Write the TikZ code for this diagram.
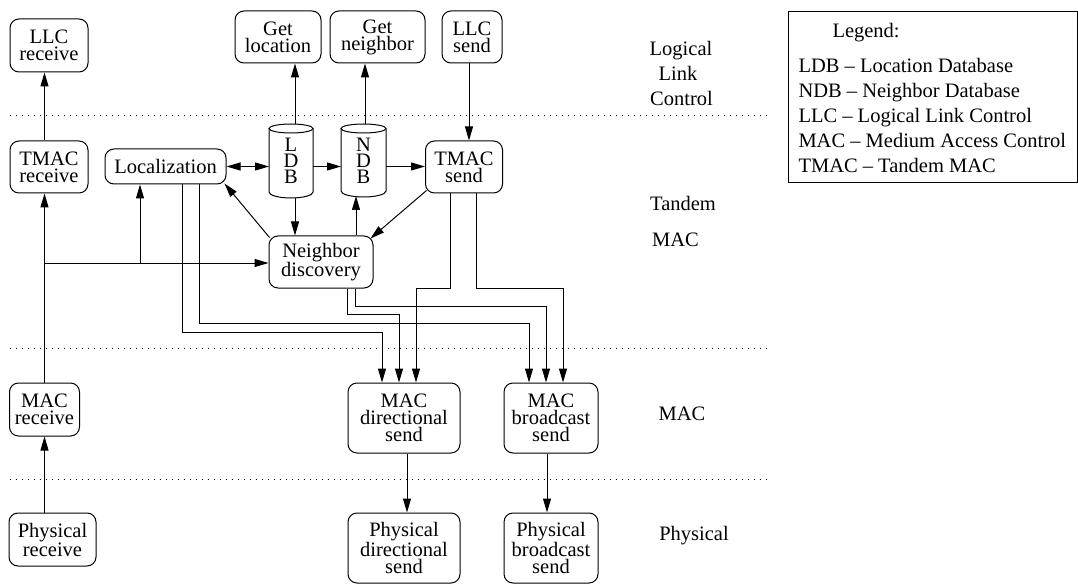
\documentclass[tikz,border=0pt]{standalone}
\usepackage{fontspec}
\setmainfont{Liberation Serif}
\usetikzlibrary{arrows.meta,calc}
\begin{document}
\begin{tikzpicture}[x=1pt,y=-1pt,
  line width=1pt,
  font=\fontsize{20.5}{17}\selectfont,
  box/.style={draw,rounded corners=9pt,align=center,inner sep=0pt},
  cyl/.style={align=center,inner sep=0pt,outer sep=0pt,minimum width=44pt,minimum height=74pt,font=\fontsize{20.5}{16}\selectfont},
  arr/.style={-{Triangle[length=14pt,width=8pt]}},
  arrtwo/.style={{Triangle[length=14pt,width=8pt]}-{Triangle[length=14pt,width=8pt]}},
  sepline/.style={line width=0.9pt,dash pattern=on 1pt off 5pt},
  lbl/.style={anchor=base,inner sep=0pt},
  leg/.style={anchor=base west,inner sep=0pt}]
\useasboundingbox (0,0) rectangle (1078,585);

% layer separators
\draw[sepline] (10,115) -- (770,115);
\draw[sepline] (10,348) -- (770,348);
\draw[sepline] (10,479) -- (770,479);

% boxes
\node[box,minimum width=78pt,minimum height=53pt] (llcr) at (49,45.5) {LLC\\receive};
\node[box,minimum width=78pt,minimum height=52pt] (tmacr) at (49,167) {TMAC\\receive};
\node[box,minimum width=121pt,minimum height=35pt] (loc) at (165.5,166.5) {Localization};
\node[box,minimum width=86pt,minimum height=52pt] (getloc) at (278,37) {Get\\location};
\node[box,minimum width=95pt,minimum height=52pt] (getnb) at (377.5,37) {Get\\neighbor};
\node[box,minimum width=60pt,minimum height=52pt] (llcs) at (472,37) {LLC\\send};
\node[box,minimum width=77pt,minimum height=52pt] (tmacs) at (464,167) {TMAC\\send};
\node[box,minimum width=104pt,minimum height=52pt] (nd) at (321,262) {Neighbor\\discovery};
\node[box,minimum width=70pt,minimum height=53pt] (macr) at (44.5,409.5) {MAC\\receive};
\node[box,minimum width=87pt,minimum height=53pt] (physr) at (52.5,539.5) {Physical\\receive};
\node[box,minimum width=112pt,minimum height=70pt] (macd) at (404,418) {MAC\\directional\\send};
\node[box,minimum width=94pt,minimum height=70pt] (macb) at (551,418) {MAC\\broadcast\\send};
\node[box,minimum width=112pt,minimum height=70pt] (physd) at (404,548) {Physical\\directional\\send};
\node[box,minimum width=94pt,minimum height=70pt] (physb) at (551,548) {Physical\\broadcast\\send};

% databases (cylinders)
\node[cyl] (ldb) at (291,161) {L\\D\\B};
\node[cyl,minimum width=45pt,minimum height=73pt] (ndb) at (363.5,160.5) {N\\D\\B};
\draw ([yshift=-4.5pt]ldb.north west) -- ([yshift=6pt]ldb.south west)
  arc[start angle=180,end angle=360,x radius=22pt,y radius=6pt] -- ([yshift=-4.5pt]ldb.north east);
\draw ([yshift=-4.5pt]ldb.north) ellipse[x radius=22pt,y radius=4.5pt];
\draw ([yshift=-4.5pt]ndb.north west) -- ([yshift=6pt]ndb.south west)
  arc[start angle=180,end angle=360,x radius=22.5pt,y radius=6pt] -- ([yshift=-4.5pt]ndb.north east);
\draw ([yshift=-4.5pt]ndb.north) ellipse[x radius=22.5pt,y radius=4.5pt];

% layer labels
\node[lbl] (l1) at (681,56) {Logical};
\node[lbl] (l2) at (678,81) {Link};
\node[lbl] (l3) at (681.5,106) {Control};
\node[lbl] (l4) at (683,211) {Tandem};
\node[lbl] (l5) at (675.5,247) {MAC};
\node[lbl] (l6) at (682,420) {MAC};
\node[lbl] (l7) at (694,540) {Physical};

% legend
\node[draw,anchor=north west,minimum width=289pt,minimum height=171pt,inner sep=0pt,outer sep=0pt] (legend) at (788,12) {};
\node[leg] (lg0) at (832,38) {Legend:};
\node[leg] (lg1) at (798,73) {LDB – Location Database};
\node[leg] (lg2) at (798,97.8) {NDB – Neighbor Database};
\node[leg] (lg3) at (798,122.6) {LLC – Logical Link Control};
\node[leg] (lg4) at (798,147.4) {MAC – Medium Access Control};
\node[leg] (lg5) at (798,172.2) {TMAC – Tandem MAC};

% receive column
\draw[arr] (physr.north -| macr.south) -- (macr.south);
\draw[arr] (macr.north) -- (macr.north |- tmacr.south);
\draw[arr] (macr.north |- tmacr.north) -- (macr.north |- llcr.south);
\coordinate (br1) at (44.5,263);
\coordinate (br2) at (140,263);
\draw[arr] (br1) -- (br1 -| nd.west);
\draw[arr] (br2) -- (br2 |- loc.south);

% databases and getters
\draw[arr] ([xshift=4pt]ldb.north) -- ([xshift=4pt]ldb.north |- getloc.south);
\draw[arr] ([xshift=1.5pt]ndb.north) -- ([xshift=1.5pt]ndb.north |- getnb.south);
\draw[arr] ([xshift=-3pt]llcs.south) -- ([xshift=-3pt]llcs.south |- tmacs.north);
\draw[arrtwo] (loc.east) -- (loc.east -| ldb.west);
\draw[arr] (ldb.east |- loc.east) -- (ndb.west |- loc.east);
\draw[arr] (ndb.east |- loc.east) -- (tmacs.west |- loc.east);
\draw[arr] ([xshift=4pt]ldb.south) -- ([xshift=4pt]ldb.south |- nd.north);
\draw[arr] ([xshift=-7.5pt]ndb.south |- nd.north) -- ([xshift=-7.5pt,yshift=1pt]ndb.south);
\draw[arr] ([shift={(1,2)}]nd.north west) -- ([shift={(-2,-1)}]loc.south east);
\draw[arr] ([shift={(1.5,-3)}]tmacs.south west) -- ([shift={(-3,3)}]nd.north east);

% routing to MAC send boxes
\coordinate (d1) at ([xshift=-22pt]macd.north);
\coordinate (d2) at ([xshift=-5pt]macd.north);
\coordinate (d3) at ([xshift=12pt]macd.north);
\coordinate (b1) at ([xshift=-22pt]macb.north);
\coordinate (b2) at ([xshift=-5pt]macb.north);
\coordinate (b3) at ([xshift=12pt]macb.north);
\coordinate (s1) at ([xshift=78pt]loc.south west);
\coordinate (s2) at ([xshift=95pt]loc.south west);
\coordinate (n1) at ([xshift=79pt]nd.south west);
\coordinate (n2) at ([xshift=87pt]nd.south west);
\coordinate (t1) at ([xshift=25.5pt]tmacs.south west);
\coordinate (t2) at ([xshift=51.5pt]tmacs.south west);
\coordinate (hA) at (0,332);
\coordinate (hB) at (0,323);
\coordinate (hC) at (0,314);
\coordinate (hD) at (0,306);
\coordinate (hE) at (0,288);
\draw[arr] (s1) |- (d1 |- hA) -- (d1);
\draw[arr] (s2) |- (b1 |- hB) -- (b1);
\draw[arr] (n1) |- (d2 |- hC) -- (d2);
\draw[arr] (n2) |- (b2 |- hD) -- (b2);
\draw[arr] (t1) |- (d3 |- hE) -- (d3);
\draw[arr] (t2) |- (b3 |- hE) -- (b3);

% MAC to physical
\draw[arr] ([xshift=3pt]macd.south) -- ([xshift=3pt]physd.north);
\draw[arr] ([xshift=-4pt]macb.south) -- ([xshift=-4pt]physb.north);
\end{tikzpicture}
\end{document}
